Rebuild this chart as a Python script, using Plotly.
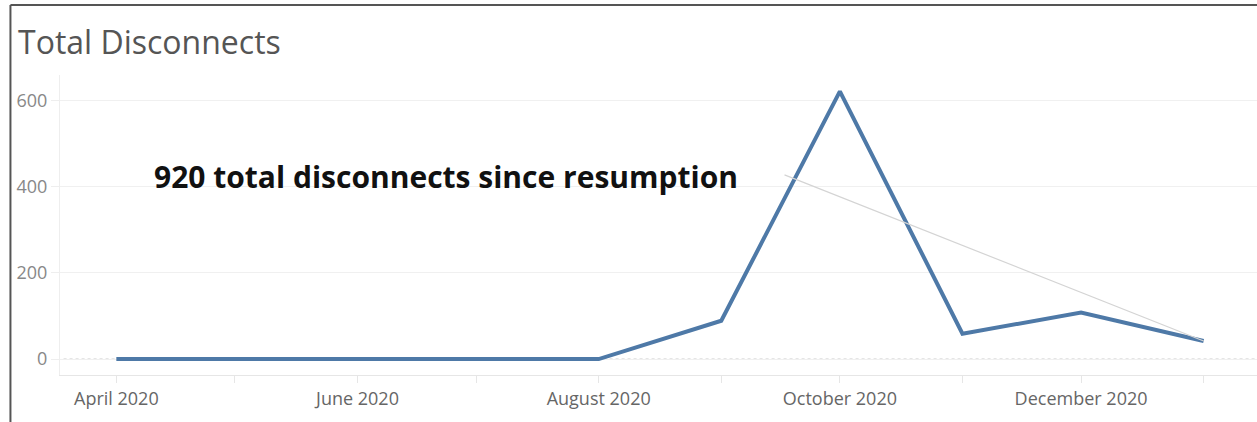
import plotly.graph_objects as go

months = ["2020-04-01", "2020-05-01", "2020-06-01", "2020-07-01", "2020-08-01",
          "2020-09-01", "2020-10-01", "2020-11-01", "2020-12-01", "2021-01-01"]
disconnects = [0, 0, 0, 0, 0, 89, 622, 59, 108, 42]
y_ticks = [0, 200, 400, 600]
title_text = "Total Disconnects"
note_text = "920 total disconnects since resumption"
note_text_x = "2020-04-10"
note_text_y = 425
note_anchor_x = "2020-09-17"
note_anchor_y = 428

fig = go.Figure()
fig.add_trace(go.Scatter(
    x=months, y=disconnects, mode="lines",
    line=dict(color="#4e79a7", width=4),
    hoverinfo="skip", showlegend=False,
))

# dotted zero line
fig.add_shape(type="line", xref="paper", yref="y", x0=0.003, x1=1, y0=0, y1=0,
              line=dict(color="#c4c4c4", width=1, dash="dot"), layer="below")
# annotation leader line
fig.add_shape(type="line", xref="x", yref="y",
              x0=note_anchor_x, y0=note_anchor_y, x1=months[-1], y1=disconnects[-1],
              line=dict(color="#d4d4d4", width=1.2))
# outer frame (top and left)
fig.add_shape(type="line", xref="paper", yref="paper", x0=-0.0414, x1=1.05, y0=1.2333, y1=1.2333,
              line=dict(color="#555555", width=2))
fig.add_shape(type="line", xref="paper", yref="paper", x0=-0.0414, x1=-0.0414, y0=1.2333, y1=-0.2,
              line=dict(color="#555555", width=2))

fig.add_annotation(xref="paper", yref="paper", x=-0.037, y=1.11, xanchor="left", yanchor="middle",
                   text=title_text, showarrow=False,
                   font=dict(family="Open Sans", size=32, color="#555555"))
fig.add_annotation(xref="x", yref="y", x=note_text_x, y=note_text_y, xanchor="left", yanchor="middle",
                   text="<b>" + note_text + "</b>", showarrow=False,
                   font=dict(family="Open Sans", size=30, color="#111111"))

fig.update_layout(
    width=1257, height=422,
    margin=dict(l=60, r=0, t=75, b=47),
    plot_bgcolor="white", paper_bgcolor="white",
    xaxis=dict(
        type="date", range=["2020-03-17 18:00", "2021-01-14 12:00"],
        tickmode="linear", tick0="2020-04-01", dtick="M2", tickformat="%B %Y",
        ticks="outside", ticklen=7, tickcolor="#e6e6e6",
        minor=dict(dtick="M1", ticks="outside", ticklen=7, tickcolor="#e6e6e6", showgrid=False),
        showgrid=False, showline=True, linecolor="#e6e6e6", linewidth=1,
        tickfont=dict(family="Open Sans", size=18, color="#666666"),
        zeroline=False, fixedrange=True,
    ),
    yaxis=dict(
        range=[-37, 660], tickvals=y_ticks,
        ticks="outside", ticklen=8, tickcolor="#eeeeee",
        showgrid=True, gridcolor="#f0f0f0", gridwidth=1,
        showline=True, linecolor="#eeeeee", linewidth=1,
        zeroline=False,
        tickfont=dict(family="Open Sans", size=18, color="#888888"),
        fixedrange=True,
    ),
)

fig.write_html("out.html", config={"displayModeBar": False},
               post_script="document.body.style.margin='0';")
